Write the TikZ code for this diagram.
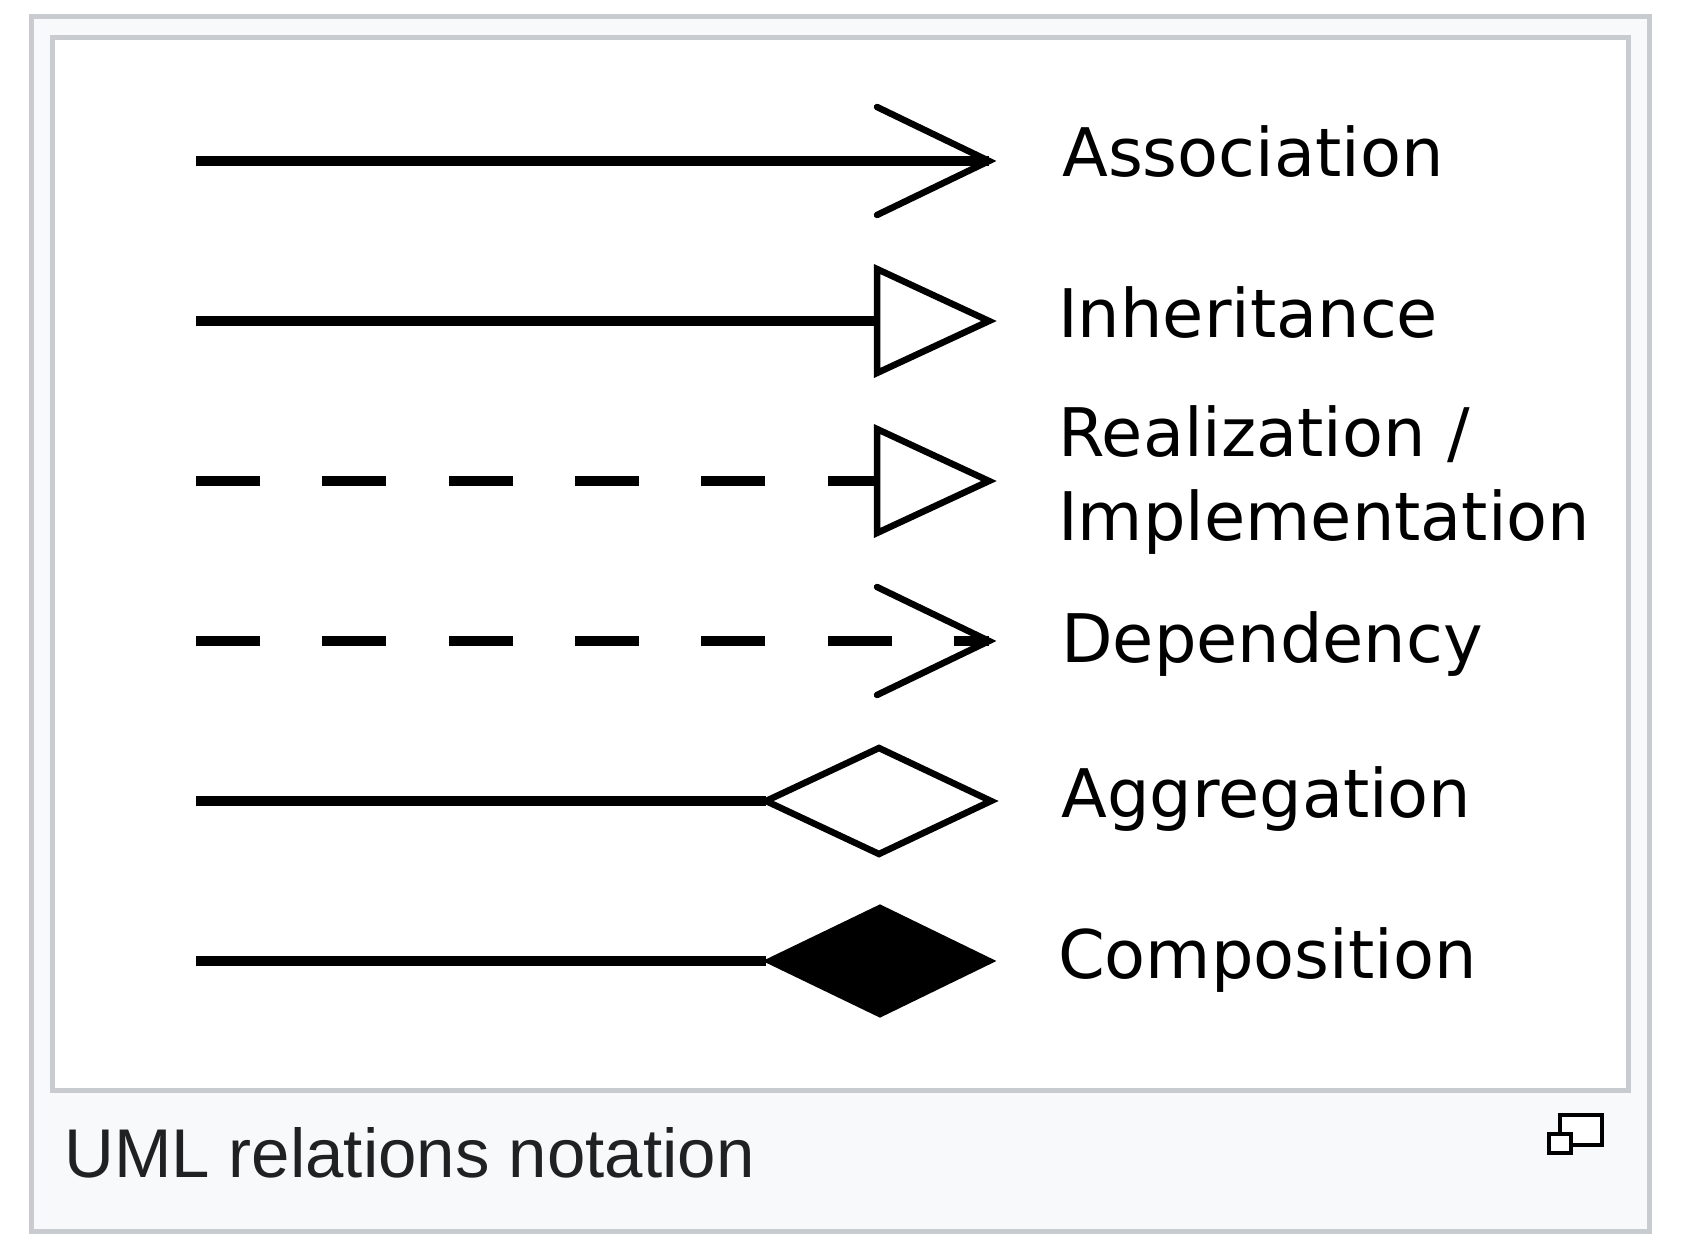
\documentclass[tikz,border=0pt]{standalone}
\usepackage{fontspec}
\setmainfont{DejaVu Sans}
\newfontfamily\capfont{Liberation Sans}
\definecolor{frameline}{HTML}{C8CCD1}
\definecolor{framebg}{HTML}{F8F9FA}
\definecolor{captext}{HTML}{202122}
\tikzset{
  mainline/.style={line width=10.5pt, black},
  dashline/.style={line width=10.5pt, black, dash pattern=on 64pt off 62.3pt},
  headline/.style={line width=6.5pt, black, line cap=round, line join=miter},
  openhead/.style={headline, fill=white},
  filledhead/.style={line width=3pt, black, fill=black, line join=miter},
  label/.style={anchor=base west, inner sep=0pt, font=\fontsize{67}{80}\selectfont},
  captionlabel/.style={anchor=base west, inner sep=0pt, text=captext, font=\capfont\fontsize{69}{80}\selectfont},
  outerframe/.style={line width=5pt, draw=frameline, fill=framebg},
  innerframe/.style={line width=5pt, draw=frameline, fill=white},
  iconbox/.style={line width=4pt, draw=black, fill=white}
}
\begin{document}
\begin{tikzpicture}[x=1pt, y=-1pt]
\useasboundingbox (0,0) rectangle (1690,1258);
% frames
\draw[outerframe] (31.5,16.5) rectangle (1649.5,1231);
\draw[innerframe] (52.5,37.5) rectangle (1628.5,1090.5);

% coordinates
\coordinate (s1) at (196,161);  \coordinate (t1) at (989,161);
\coordinate (s2) at (196,321);  \coordinate (t2) at (989,321);  \coordinate (b2) at (877,321);
\coordinate (s3) at (196,481);  \coordinate (t3) at (989,481);  \coordinate (b3) at (877,481);
\coordinate (s4) at (196,641);  \coordinate (t4) at (989,641);
\coordinate (s5) at (196,801);  \coordinate (t5) at (991,801);  \coordinate (b5) at (766,801);
\coordinate (s6) at (196,961);  \coordinate (t6) at (993,961);  \coordinate (b6) at (766,961);

% Association
\draw[mainline] (s1) -- (t1);
\draw[headline] ([shift={(-112,-54)}]t1) -- (t1) -- ([shift={(-112,54)}]t1);

% Inheritance
\draw[mainline] (s2) -- (b2);
\draw[openhead] ([shift={(0,-52)}]b2) -- (t2) -- ([shift={(0,52)}]b2) -- cycle;

% Realization
\draw[dashline] (s3) -- (b3);
\draw[openhead] ([shift={(0,-52)}]b3) -- (t3) -- ([shift={(0,52)}]b3) -- cycle;

% Dependency
\draw[dashline] (s4) -- (t4);
\draw[headline] ([shift={(-112,-54)}]t4) -- (t4) -- ([shift={(-112,54)}]t4);

% Aggregation
\draw[mainline] (s5) -- (b5);
\draw[openhead] (b5) -- ([shift={(113,-53)}]b5) -- (t5) -- ([shift={(113,53)}]b5) -- cycle;

% Composition
\draw[mainline] (s6) -- (b6);
\draw[filledhead] (b6) -- ([shift={(114,-55)}]b6) -- (t6) -- ([shift={(114,55)}]b6) -- cycle;

% labels
\node[label] (l1) at (1062,176) {Association};
\node[label] (l2) at (1058,337) {Inheritance};
\node[label] (l3a) at (1058,456) {Realization /};
\node[label] (l3b) at (1058,540) {Implementation};
\node[label] (l4) at (1061,662) {Dependency};
\node[label] (l5) at (1061,817) {Aggregation};
\node[label] (l6) at (1058,978) {Composition};

% caption
\node[captionlabel] (cap) at (64,1177) {UML relations notation};

% enlarge icon
\draw[iconbox] (1560,1115) rectangle (1602,1145);
\draw[iconbox] (1549,1134) rectangle (1571,1153);
\end{tikzpicture}
\end{document}
